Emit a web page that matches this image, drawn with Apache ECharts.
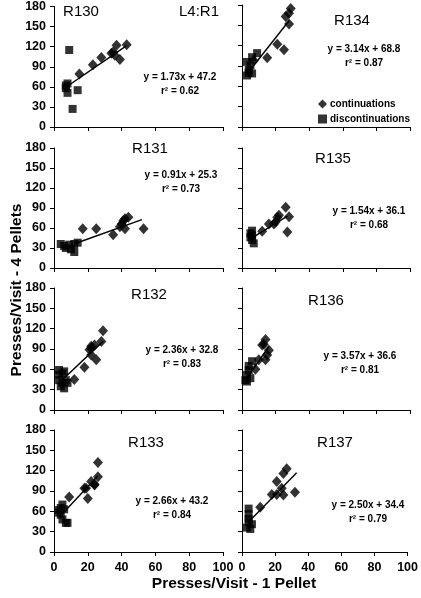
<!DOCTYPE html>
<html><head><meta charset="utf-8">
<script src="https://cdn.jsdelivr.net/npm/echarts@6/dist/echarts.min.js"></script>
<style>html,body{margin:0;padding:0;background:#fff}#c{width:421px;height:598px}</style>
</head><body><div id="c"></div>
<script>
// ---- data ----
const panelNames = ['R130','R134','R131','R135','R132','R136','R133','R137'];
const xTicks = [0,20,40,60,80,100];
const yTicks = [0,30,60,90,120,150,180];

const r130Cont = [[15,79],[23,93],[28,104],[34,110],[35,112],[36,107],[37,122],[39,101],[43,123]];
const r130Disc = [[9,115],[8,65],[7,62],[7,58],[8,51],[14,55],[11,27]];
const r134Cont = [[29,175],[28,168],[26,163],[28,152],[21,122],[25,114],[15,102],[7,98]];
const r134Disc = [[9,109],[6,103],[3,96],[5,91],[4,84],[3,76],[6,79],[4,80]];
const r131Cont = [[17,59],[25,59],[35,50],[39,62],[40,66],[41,71],[42,74],[44,76],[42,59],[53,59]];
const r131Disc = [[4,36],[6,33],[7,30],[9,35],[10,28],[12,24],[14,38],[12,36]];
const r135Cont = [[26,91],[28,77],[27,54],[22,79],[21,76],[19,66],[16,66],[12,55],[20,69]];
const r135Disc = [[6,56],[6,49],[6,42],[7,37],[5,46],[5,52]];
const r132Cont = [[29,117],[28,101],[25,74],[24,96],[22,94],[21,89],[22,81],[18,63],[12,45],[22,91]];
const r132Disc = [[3,59],[3,44],[4,35],[5,54],[7,44],[8,40],[3,52],[6,32],[6,57],[5,40]];
const r136Cont = [[14,104],[13,97],[12,96],[16,88],[15,81],[14,74],[10,74],[8,60]];
const r136Disc = [[6,72],[4,59],[3,52],[2,44],[3,42],[5,47],[4,65]];
const r133Cont = [[26,132],[26,111],[24,100],[22,104],[24,99],[19,94],[20,79],[18,94],[9,81]];
const r133Disc = [[3,62],[4,55],[5,70],[6,63],[5,48],[7,43],[8,43],[4,65],[3,58]];
const r137Cont = [[27,123],[25,116],[21,104],[32,88],[24,94],[25,84],[21,85],[18,85],[11,66]];
const r137Disc = [[4,64],[4,56],[4,49],[3,36],[5,34],[6,41],[4,44]];

const contSets = [r130Cont,r134Cont,r131Cont,r135Cont,r132Cont,r136Cont,r133Cont,r137Cont];
const discSets = [r130Disc,r134Disc,r131Disc,r135Disc,r132Disc,r136Disc,r133Disc,r137Disc];

const fitSlope     = [1.73, 3.14, 0.91, 1.54, 2.36, 3.57, 2.66, 2.50];
const fitIntercept = [47.2, 68.8, 25.3, 36.1, 32.8, 36.6, 43.2, 34.4];
const fitR2        = ['0.62','0.87','0.73','0.68','0.83','0.81','0.84','0.79'];
const fitXStart    = [7, 3, 13, 5, 5, 3, 5, 5];
const fitXEnd      = [43, 28, 52, 27, 29, 16, 26, 33];

// ---- layout ----
const FONT = '"Liberation Sans", Arial, sans-serif';
const colLeft = [54, 242], colWidth = [169, 168];
const rowTop = [5, 148, 288, 430], rowHeight = [122, 120, 122, 122];
const titlePos = [[81,12],[352,21],[150,149],[333,159],[149,295],[326,301],[146,443],[335,443]];
const eqPos = [[180,77],[364,49],[181,175],[369,211],[182,350],[360,356],[172,501],[368,505]];

const grids=[], xAxes=[], yAxes=[], series=[], graphics=[];
panelNames.forEach((name,i)=>{
  const col = i%2, row = Math.floor(i/2);
  grids.push({left:colLeft[col], top:rowTop[row], width:colWidth[col], height:rowHeight[row], containLabel:false});
  xAxes.push({type:'value', gridIndex:i, min:0, max:100, interval:20,
    axisLine:{show:true, onZero:false, lineStyle:{color:'#000', width:1}},
    axisTick:{show:true, length:4, inside:false, lineStyle:{color:'#000'}},
    axisLabel:{show:row===3, margin:9, color:'#000', fontWeight:'bold', fontSize:12.5, fontFamily:FONT},
    splitLine:{show:false}});
  yAxes.push({type:'value', gridIndex:i, min:0, max:180, interval:30,
    axisLine:{show:true, onZero:false, lineStyle:{color:'#000', width:1}},
    axisTick:{show:true, length:4, inside:false, lineStyle:{color:'#000'}},
    axisLabel:{show:col===0, margin:8, color:'#000', fontWeight:'bold', fontSize:12.5, fontFamily:FONT},
    splitLine:{show:false}});
  const m=fitSlope[i], b=fitIntercept[i];
  series.push({type:'line', xAxisIndex:i, yAxisIndex:i, symbol:'none', silent:true,
    lineStyle:{color:'#000', width:1.4},
    data:[[fitXStart[i], m*fitXStart[i]+b],[fitXEnd[i], m*fitXEnd[i]+b]], z:1});
  series.push({type:'scatter', name:'continuations', xAxisIndex:i, yAxisIndex:i,
    symbol:'diamond', symbolSize:[10,11], itemStyle:{color:'#000'}, data:contSets[i], z:3});
  series.push({type:'scatter', name:'discontinuations', xAxisIndex:i, yAxisIndex:i,
    symbol:'rect', symbolSize:8, itemStyle:{color:'#000'}, data:discSets[i], z:3});
  graphics.push({type:'text', x:titlePos[i][0], y:titlePos[i][1],
    style:{text:name, font:'15px '+FONT, fill:'#000', textAlign:'center', textVerticalAlign:'middle'}});
  graphics.push({type:'text', x:eqPos[i][0], y:eqPos[i][1],
    style:{text:'y = '+m.toFixed(2)+'x + '+b.toFixed(1), font:'bold 10px '+FONT, fill:'#000', textAlign:'center', textVerticalAlign:'middle'}});
  graphics.push({type:'text', x:eqPos[i][0], y:eqPos[i][1]+14,
    style:{text:'r\u00B2 = '+fitR2[i], font:'bold 10px '+FONT, fill:'#000', textAlign:'center', textVerticalAlign:'middle'}});
});
graphics.push({type:'text', x:199, y:12,
  style:{text:'L4:R1', font:'15px '+FONT, fill:'#000', textAlign:'center', textVerticalAlign:'middle'}});
graphics.push({type:'text', x:234, y:584,
  style:{text:'Presses/Visit - 1 Pellet', font:'bold 15.5px '+FONT, fill:'#000', textAlign:'center', textVerticalAlign:'middle'}});
graphics.push({type:'text', x:17, y:290, rotation:Math.PI/2,
  style:{text:'Presses/Visit - 4 Pellets', font:'bold 15.5px '+FONT, fill:'#000', textAlign:'center', textVerticalAlign:'middle'}});

const chart = echarts.init(document.getElementById('c'), null, {renderer:'canvas'});
chart.setOption({
  animation:false,
  grid:grids, xAxis:xAxes, yAxis:yAxes, series:series, graphic:graphics,
  legend:{show:true, orient:'vertical', left:313, top:94, itemWidth:9, itemHeight:9, itemGap:5,
    selectedMode:false,
    textStyle:{color:'#000', fontWeight:'bold', fontSize:10, fontFamily:FONT, padding:[0,0,0,-2]},
    data:[{name:'continuations', icon:'diamond'},{name:'discontinuations', icon:'rect'}]}
});
</script></body></html>
